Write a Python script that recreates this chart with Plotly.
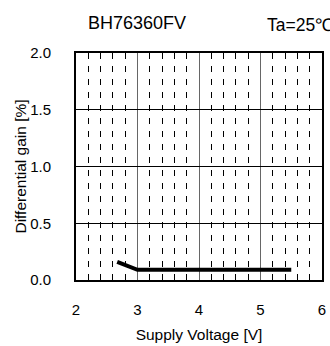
import plotly.graph_objects as go

voltage = [2.67, 3.0, 5.5]
diff_gain = [0.16, 0.09, 0.09]
x_ticks = [2, 3, 4, 5, 6]
y_ticks = [0.0, 0.5, 1.0, 1.5, 2.0]
y_tick_labels = ["0.0", "0.5", "1.0", "1.5", "2.0"]

fig = go.Figure()
fig.add_trace(go.Scatter(x=voltage, y=diff_gain, mode="lines",
                         line=dict(color="black", width=4), showlegend=False))

font = dict(family="Liberation Sans, Arial, sans-serif", size=15, color="black")

FW, FH = 330, 346
L, R, T, B = 76, 322, 53, 280
W, H = R - L, B - T

fig.update_layout(
    width=FW, height=FH,
    margin=dict(l=L, r=FW - R, t=T, b=FH - B, autoexpand=False),
    paper_bgcolor="white", plot_bgcolor="white",
    font=font,
    xaxis=dict(range=[2, 6], tickvals=x_ticks, ticks="", ticklabelstandoff=15,
               ticklabeloverflow="allow", automargin=False,
               showgrid=True, gridcolor="#666666", gridwidth=1,
               showline=True, linecolor="black", linewidth=2, mirror=True,
               zeroline=False,
               minor=dict(dtick=0.2, showgrid=True, gridcolor="black", gridwidth=1,
                          griddash="6px,7px", ticks=""),
               title=dict(text="Supply Voltage [V]", font=dict(size=15.5), standoff=12)),
    yaxis=dict(range=[0, 2], tickvals=y_ticks, ticktext=y_tick_labels, ticks="",
               ticklabelstandoff=20, automargin=False,
               showgrid=True, gridcolor="black", gridwidth=1,
               showline=True, linecolor="black", linewidth=2, mirror=True,
               zeroline=False,
               title=dict(text="Differential gain [%]", font=dict(size=15.5), standoff=0)),
    annotations=[
        dict(text="BH76360FV", x=(137 - L) / W, y=1 + (T - 23) / H,
             xref="paper", yref="paper", xanchor="center", yanchor="middle",
             showarrow=False, font=dict(size=18)),
        dict(text="Ta=25℃", x=(265 - L) / W, y=1 + (T - 25) / H,
             xref="paper", yref="paper", xanchor="left", yanchor="middle",
             showarrow=False, font=dict(size=17.5)),
    ],
)

fig.write_html("out.html", config={"displayModeBar": False},
               post_script="document.body.style.margin='0px';")
